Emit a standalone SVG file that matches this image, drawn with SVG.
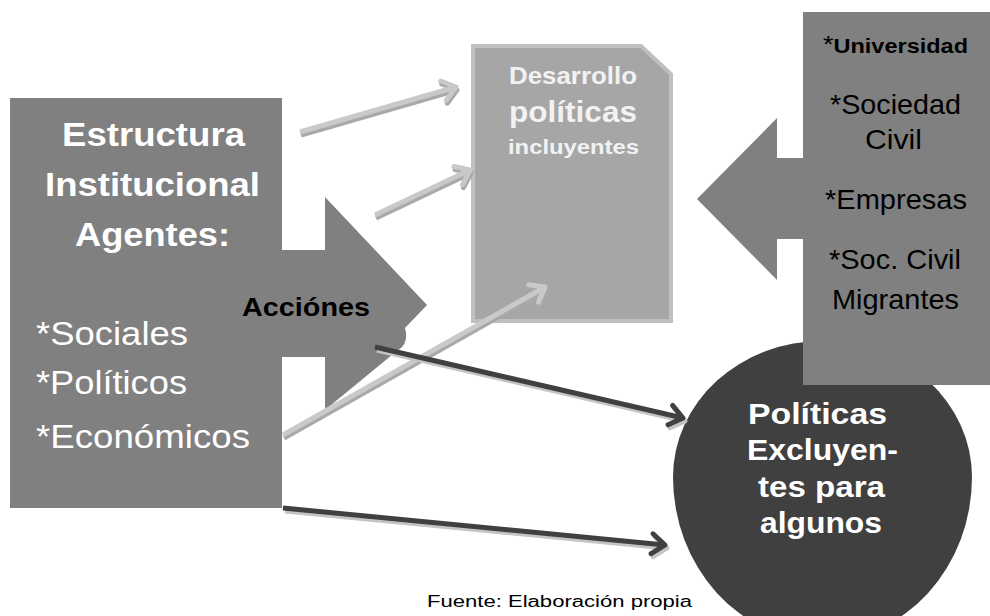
<svg xmlns="http://www.w3.org/2000/svg" width="990" height="616" viewBox="0 0 990 616">
<style>
text{font-family:"Liberation Sans",Arial,sans-serif}
.b{font-weight:bold}
.w{fill:#ffffff}
.k{fill:#000000}
.d{fill:#f2f2f2}
.ls{stroke:#c9c9c9;stroke-width:5;fill:none}
.lsh{stroke:#a9a9a9;stroke-width:5;fill:none}
.dk{stroke:#404040;stroke-width:5;fill:none}
.dsh{stroke:#c4c4c4;stroke-width:5;fill:none}
</style>
<defs>
<marker id="mL" markerUnits="userSpaceOnUse" viewBox="-20 -15 30 30" markerWidth="30" markerHeight="30" refX="0" refY="0" orient="auto">
<path d="M-13,-10 L0,0 L-13,10" stroke="#c9c9c9" stroke-width="5" fill="none" stroke-linecap="round" stroke-linejoin="round"/>
</marker>
<marker id="mLs" markerUnits="userSpaceOnUse" viewBox="-20 -15 30 30" markerWidth="30" markerHeight="30" refX="0" refY="0" orient="auto">
<path d="M-13,-10 L0,0 L-13,10" stroke="#a9a9a9" stroke-width="5" fill="none" stroke-linecap="round" stroke-linejoin="round"/>
</marker>
<marker id="mD" markerUnits="userSpaceOnUse" viewBox="-20 -15 30 30" markerWidth="30" markerHeight="30" refX="0" refY="0" orient="auto">
<path d="M-13,-10 L0,0 L-13,10" stroke="#404040" stroke-width="5" fill="none" stroke-linecap="round" stroke-linejoin="round"/>
</marker>
<marker id="mDs" markerUnits="userSpaceOnUse" viewBox="-20 -15 30 30" markerWidth="30" markerHeight="30" refX="0" refY="0" orient="auto">
<path d="M-13,-10 L0,0 L-13,10" stroke="#c4c4c4" stroke-width="5" fill="none" stroke-linecap="round" stroke-linejoin="round"/>
</marker>
</defs>
<rect width="990" height="616" fill="#ffffff"/>

<g id="excluyentes">
<path d="M673,477 A149.5,136 0 0 1 972,477 A149.5,164 0 0 1 673,477 Z" fill="#404040"/>
<text class="b w" font-size="30" x="748" y="424" textLength="139" lengthAdjust="spacingAndGlyphs">Políticas</text>
<text class="b w" font-size="30" x="747" y="460" textLength="151" lengthAdjust="spacingAndGlyphs">Excluyen-</text>
<text class="b w" font-size="30" x="758" y="497" textLength="127" lengthAdjust="spacingAndGlyphs">tes para</text>
<text class="b w" font-size="30" x="760" y="533" textLength="122" lengthAdjust="spacingAndGlyphs">algunos</text>
</g>

<g id="estructura">
<rect x="10" y="98" width="272" height="410" fill="#808080"/>
<text class="b w" font-size="33" x="62" y="146" textLength="183" lengthAdjust="spacingAndGlyphs">Estructura</text>
<text class="b w" font-size="33" x="45" y="196" textLength="215" lengthAdjust="spacingAndGlyphs">Institucional</text>
<text class="b w" font-size="33" x="75" y="246" textLength="155" lengthAdjust="spacingAndGlyphs">Agentes:</text>
<text class="w" font-size="34" x="36" y="345" textLength="152" lengthAdjust="spacingAndGlyphs">*Sociales</text>
<text class="w" font-size="34" x="36" y="394" textLength="151" lengthAdjust="spacingAndGlyphs">*Políticos</text>
<text class="w" font-size="34" x="36" y="448" textLength="214" lengthAdjust="spacingAndGlyphs">*Económicos</text>
</g>

<g id="acciones">
<path d="M282,250 L325,250 L325,197 L427,305 L405,328 C408,338 405,346 398,350 L325,410 L325,357 L282,357 Z" fill="#808080"/>
<text class="b k" font-size="26" x="242" y="316" textLength="128" lengthAdjust="spacingAndGlyphs">Acciónes</text>
</g>

<g id="desarrollo">
<polygon points="473,46 641,46 671,74 671,321 473,321" fill="#a6a6a6" stroke="#bfbfbf" stroke-width="4"/>
<text class="b d" font-size="23" x="509" y="84" textLength="128" lengthAdjust="spacingAndGlyphs">Desarrollo</text>
<text class="b d" font-size="30" x="509" y="122" textLength="128" lengthAdjust="spacingAndGlyphs">políticas</text>
<text class="b d" font-size="20" x="508" y="154" textLength="131" lengthAdjust="spacingAndGlyphs">incluyentes</text>
</g>

<g id="actores">
<path d="M803,12 L990,12 L990,385 L803,385 L803,239 L777,239 L777,280 L697,199 L777,118 L777,158 L803,158 Z" fill="#808080"/>
<text class="k" x="823" y="53" font-size="23" textLength="145" lengthAdjust="spacingAndGlyphs">*<tspan class="b" font-size="20">Universidad</tspan></text>
<text class="k" font-size="28" x="830" y="114" textLength="131" lengthAdjust="spacingAndGlyphs">*Sociedad</text>
<text class="k" font-size="28" x="865" y="149" textLength="57" lengthAdjust="spacingAndGlyphs">Civil</text>
<text class="k" font-size="28" x="825" y="209" textLength="142" lengthAdjust="spacingAndGlyphs">*Empresas</text>
<text class="k" font-size="28" x="829" y="269" textLength="132" lengthAdjust="spacingAndGlyphs">*Soc. Civil</text>
<text class="k" font-size="28" x="832" y="309" textLength="127" lengthAdjust="spacingAndGlyphs">Migrantes</text>
</g>

<g id="connectors">
<line class="lsh" x1="301" y1="135" x2="457" y2="90" marker-end="url(#mLs)"/>
<line class="ls" x1="300" y1="132" x2="456" y2="87" marker-end="url(#mL)"/>
<line class="lsh" x1="376" y1="218" x2="471" y2="173" marker-end="url(#mLs)"/>
<line class="ls" x1="375" y1="215" x2="470" y2="170" marker-end="url(#mL)"/>
<line class="lsh" x1="284" y1="438" x2="546" y2="290" marker-end="url(#mLs)"/>
<line class="ls" x1="283" y1="435" x2="545" y2="287" marker-end="url(#mL)"/>
<line class="dsh" x1="377" y1="350" x2="685" y2="421" marker-end="url(#mDs)"/>
<line class="dk" x1="375" y1="347" x2="683" y2="418" marker-end="url(#mD)"/>
<line class="dsh" x1="285" y1="511" x2="667" y2="548" marker-end="url(#mDs)"/>
<line class="dk" x1="283" y1="508" x2="665" y2="545" marker-end="url(#mD)"/>
</g>

<text id="fuente" class="k" font-size="16" x="427" y="607" textLength="265" lengthAdjust="spacingAndGlyphs">Fuente: Elaboración  propia</text>
</svg>
